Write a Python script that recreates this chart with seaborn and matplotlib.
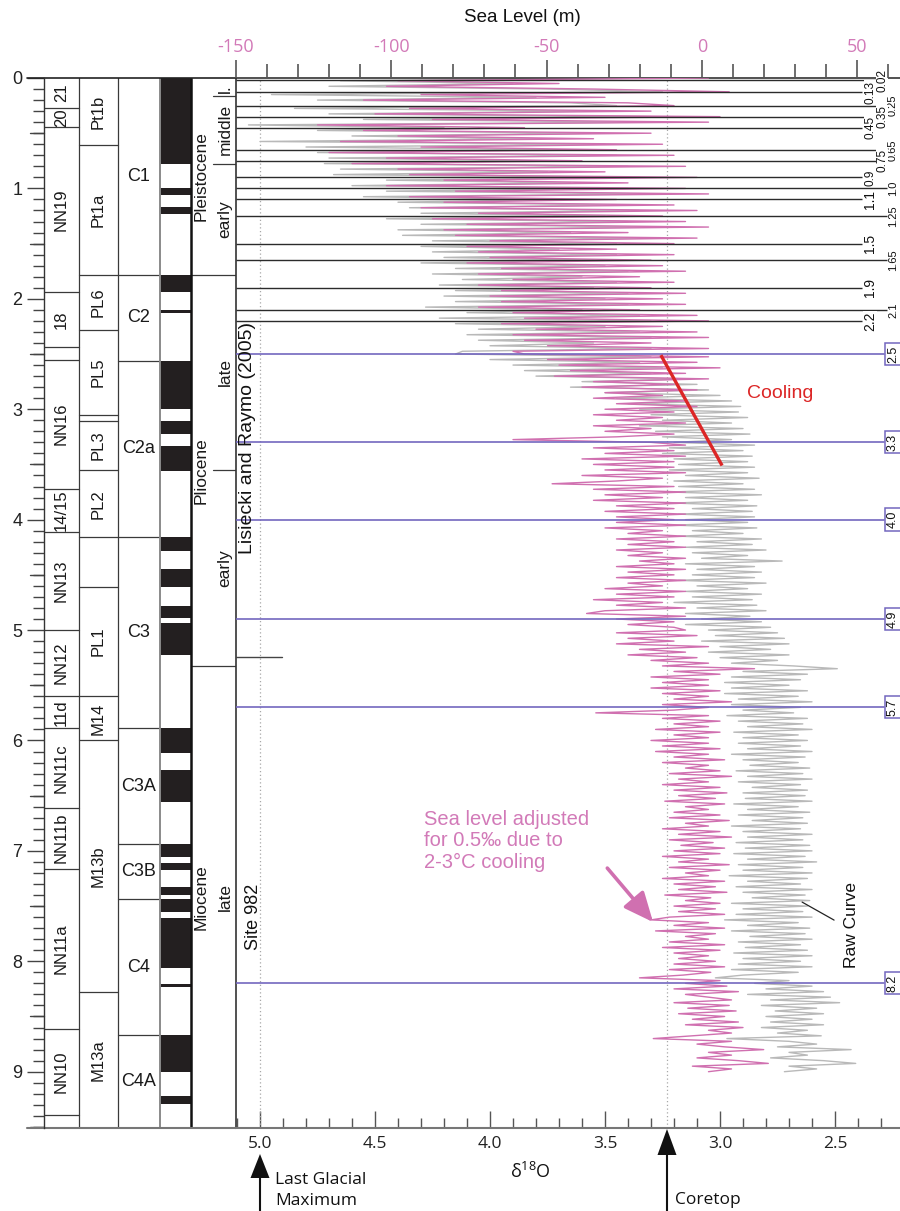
import numpy as np
import pandas as pd
import matplotlib
matplotlib.use("Agg")
import matplotlib.pyplot as plt
import seaborn as sns
from matplotlib.patches import Rectangle, Polygon
from matplotlib.lines import Line2D
from matplotlib.ticker import MultipleLocator

# ---------------------------------------------------------------- data
AGE_STEP = 0.025
ages = np.round(np.arange(0, 9.0 + 1e-9, AGE_STEP), 3)

adjusted = [
    3.05, 4.40, 3.70, 4.45, 3.55, 2.96, 4.30, 3.50, 4.55, 3.40, 3.20, 4.35, 3.30, 4.50, 3.00, 4.25, 3.05, 4.75, 3.85, 4.55,
    3.30, 4.40, 3.55, 4.65, 3.25, 4.30, 3.45, 4.70, 3.20, 4.45, 3.60, 4.60, 3.15, 4.40, 3.50, 4.35, 3.10, 4.20, 3.40, 4.45,
    3.15, 4.15, 3.05, 4.35, 3.45, 4.20, 3.20, 4.30, 3.10, 4.05, 3.25, 4.25, 3.15, 4.10, 3.05, 4.20, 3.40, 4.15, 3.10, 4.00,
    3.20, 4.10, 3.45, 4.05, 3.20, 4.00, 3.30, 4.10, 3.25, 3.95, 3.15, 4.05, 3.35, 3.90, 3.20, 4.05, 3.30, 3.95, 3.15, 4.00,
    3.25, 3.95, 3.15, 4.05, 3.35, 3.90, 3.10, 3.85, 3.05, 3.95, 3.25, 3.80, 3.10, 3.90, 3.05, 3.85, 3.30, 3.75, 3.05, 3.90,
    3.85, 3.05, 3.75, 3.10, 3.70, 3.00, 3.65, 3.15, 3.72, 3.05, 3.55, 3.20, 3.60, 3.10, 3.50, 3.25, 3.55, 3.15, 3.45, 3.10,
    3.50, 3.20, 3.55, 3.25, 3.45, 3.15, 3.55, 3.30, 3.50, 3.20, 3.45, 3.90, 3.30, 3.15, 3.55, 3.20, 3.50, 3.15, 3.60, 3.20,
    3.55, 3.20, 3.50, 3.15, 3.60, 3.25, 3.45, 3.73, 3.20, 3.55, 3.15, 3.50, 3.25, 3.55, 3.15, 3.45, 3.20, 3.50, 3.15, 3.45,
    3.20, 3.45, 3.15, 3.50, 3.25, 3.40, 3.15, 3.45, 3.20, 3.40, 3.15, 3.45, 3.25, 3.40, 3.15, 3.35, 3.20, 3.45, 3.15, 3.40,
    3.20, 3.45, 3.15, 3.40, 3.25, 3.50, 3.15, 3.45, 3.20, 3.55, 3.25, 3.45, 3.15, 3.50, 3.58, 3.15, 3.45, 3.20, 3.40, 3.20,
    3.15, 3.45, 3.10, 3.40, 3.20, 3.45, 3.05, 3.35, 3.15, 3.40, 3.10, 3.30, 3.05, 3.25, 2.85, 3.20, 3.00, 3.30, 3.05, 3.25,
    3.05, 3.30, 3.00, 3.25, 3.05, 3.20, 2.95, 3.25, 3.05, 3.20, 3.54, 3.05, 3.25, 3.00, 3.20, 3.05, 3.28, 3.00, 3.20, 3.05,
    3.30, 3.05, 3.25, 3.00, 3.28, 3.05, 3.20, 2.98, 3.25, 3.05, 3.15, 3.00, 3.22, 2.95, 3.18, 3.05, 3.25, 3.00, 3.20, 2.97,
    3.18, 3.02, 3.24, 2.98, 3.15, 3.05, 3.20, 3.00, 3.22, 2.96, 3.15, 3.05, 3.25, 3.00, 3.18, 2.95, 3.22, 3.03, 3.17, 2.98,
    3.20, 3.00, 3.25, 3.05, 3.18, 2.96, 3.22, 3.00, 3.15, 3.05, 3.25, 2.98, 3.20, 3.02, 3.18, 2.97, 3.24, 3.04, 3.15, 3.00,
    3.20, 3.02, 3.18, 2.98, 3.22, 3.30, 3.05, 3.20, 2.98, 3.28, 3.02, 3.15, 3.05, 3.22, 2.98, 3.25, 3.00, 3.20, 3.05, 3.18,
    3.02, 3.20, 2.98, 3.22, 3.04, 3.16, 3.35, 3.00, 3.15, 2.97, 3.20, 2.92, 3.15, 3.05, 2.95, 3.20, 2.96, 3.14, 2.93, 3.18,
    2.98, 3.12, 2.92, 3.15, 2.90, 3.05, 2.95, 3.12, 3.29, 2.95, 3.10, 2.98, 2.81, 3.05, 2.95, 3.10, 2.92, 2.79, 3.12, 2.95,
    3.05,
]

raw = [
    3.30, 4.65, 3.90, 4.70, 3.75, 3.25, 4.95, 3.80, 4.75, 3.65, 3.45, 4.85, 3.55, 4.70, 3.30, 4.55, 3.35, 5.05, 4.20, 4.75,
    3.55, 4.60, 3.80, 5.00, 3.50, 4.80, 3.70, 4.75, 3.45, 4.70, 3.80, 4.72, 3.40, 4.65, 3.75, 4.68, 3.35, 4.45, 3.65, 4.60,
    3.40, 4.45, 3.30, 4.55, 3.70, 4.40, 3.45, 4.35, 3.35, 4.30, 3.50, 4.45, 3.40, 4.30, 3.30, 4.40, 3.65, 4.38, 3.35, 4.25,
    3.45, 4.30, 3.70, 4.25, 3.45, 4.20, 3.55, 4.30, 3.50, 4.15, 3.40, 4.25, 3.60, 4.12, 3.45, 4.22, 3.55, 4.15, 3.40, 4.20,
    3.50, 4.15, 3.40, 4.28, 3.60, 4.10, 3.35, 4.22, 3.30, 4.15, 3.50, 4.05, 3.35, 4.10, 3.30, 4.05, 3.55, 4.00, 3.30, 4.12,
    4.15, 3.30, 4.00, 3.35, 3.90, 3.25, 3.85, 3.30, 3.80, 3.15, 3.60, 3.10, 3.65, 3.05, 3.50, 3.00, 3.45, 2.95, 3.40, 2.91,
    3.35, 2.92, 3.30, 2.88, 3.25, 2.95, 3.35, 2.90, 3.28, 2.87, 3.25, 2.95, 3.20, 2.85, 3.22, 2.90, 3.25, 2.86, 3.20, 2.88,
    3.18, 2.85, 3.22, 2.88, 3.15, 2.83, 3.20, 2.90, 3.18, 2.85, 3.22, 2.82, 3.15, 2.88, 3.20, 2.84, 3.12, 2.86, 3.18, 2.85,
    3.15, 2.88, 3.20, 2.84, 3.12, 2.90, 3.18, 2.82, 3.10, 2.86, 3.15, 2.80, 3.12, 2.88, 3.08, 2.73, 3.15, 2.85, 3.10, 2.82,
    3.12, 2.85, 3.18, 2.80, 3.10, 2.88, 3.15, 2.82, 3.12, 2.86, 3.20, 2.84, 3.10, 2.80, 3.15, 2.87, 3.08, 2.82, 3.15, 2.78,
    3.05, 2.75, 3.02, 2.72, 3.08, 2.70, 3.00, 2.78, 3.05, 2.70, 3.00, 2.75, 2.95, 2.68, 2.49, 2.90, 2.62, 2.95, 2.65, 2.98,
    2.70, 2.95, 2.62, 2.98, 2.66, 2.92, 2.60, 2.95, 2.65, 2.90, 2.68, 2.97, 2.62, 2.92, 2.64, 2.88, 2.60, 2.94, 2.66, 2.90,
    2.62, 2.92, 2.65, 2.88, 2.60, 2.95, 2.63, 2.90, 2.66, 2.87, 2.61, 2.93, 2.64, 2.88, 2.60, 2.92, 2.65, 2.86, 2.62, 2.90,
    2.63, 2.89, 2.60, 2.94, 2.66, 2.88, 2.61, 2.92, 2.64, 2.86, 2.62, 2.95, 2.65, 2.90, 2.60, 2.88, 2.64, 2.93, 2.61, 2.89,
    2.60, 2.94, 2.63, 2.88, 2.58, 2.92, 2.64, 2.90, 2.60, 2.96, 2.62, 2.88, 2.65, 2.93, 2.60, 2.90, 2.63, 2.86, 2.61, 2.95,
    2.62, 2.90, 2.64, 2.93, 2.60, 2.98, 2.66, 2.88, 2.61, 2.95, 2.63, 2.87, 2.60, 2.92, 2.65, 2.89, 2.62, 2.94, 2.60, 2.90,
    2.65, 2.92, 2.60, 2.95, 2.66, 2.90, 3.02, 2.70, 2.85, 2.60, 2.80, 2.55, 2.88, 2.52, 2.78, 2.48, 2.82, 2.58, 2.76, 2.55,
    2.80, 2.60, 2.78, 2.55, 2.82, 2.62, 2.75, 2.56, 2.97, 2.70, 2.58, 2.75, 2.43, 2.70, 2.62, 2.78, 2.55, 2.41, 2.70, 2.58,
    2.72,
]

BLACK_LINE_AGES = [0.02, 0.13, 0.25, 0.35, 0.45, 0.65, 0.75, 0.9, 1.0, 1.1, 1.25, 1.5, 1.65, 1.9, 2.1, 2.2]
BLACK_LINE_LABELS = ["0.02", "0.13", "0.25", "0.35", "0.45", "0.65", "0.75", "0.9", "1.0", "1.1",
                     "1.25", "1.5", "1.65", "1.9", "2.1", "2.2"]
PURPLE_LINE_AGES = [2.5, 3.3, 4.0, 4.9, 5.7, 8.2]
PURPLE_LABELS = ["2.5", "3.3", "4.0", "4.9", "5.7", "8.2"]

NN_BOUNDS = [0, 0.27, 0.44, 1.94, 2.44, 2.55, 3.72, 4.11, 5.0, 5.6, 5.89, 6.61, 7.16, 8.61, 9.39, 9.51]
NN_LABELS = ["21", "20", "NN19", "18", "", "NN16", "14/15", "NN13", "NN12", "11d",
             "NN11c", "NN11b", "NN11a", "NN10", ""]
PF_BOUNDS = [0, 0.61, 1.78, 2.28, 3.05, 3.11, 3.55, 4.16, 4.61, 5.6, 6.0, 8.28, 9.51]
PF_LABELS = ["Pt1b", "Pt1a", "PL6", "PL5", "", "PL3", "PL2", "", "PL1", "M14", "M13b", "M13a"]
CHRON_BOUNDS = [0, 1.78, 2.56, 4.16, 5.89, 6.94, 7.44, 8.67, 9.51]
CHRON_LABELS = ["C1", "C2", "C2a", "C3", "C3A", "C3B", "C4", "C4A"]
NORMAL_POLARITY = [(0, 0.78), (1.0, 1.06), (1.17, 1.23), (1.78, 1.94), (2.10, 2.125),
                   (2.56, 3.0), (3.11, 3.22), (3.33, 3.56), (4.16, 4.28), (4.45, 4.61),
                   (4.78, 4.89), (4.94, 5.23), (5.89, 6.11), (6.27, 6.56), (6.94, 7.06),
                   (7.11, 7.17), (7.33, 7.40), (7.44, 7.55), (7.61, 8.06), (8.21, 8.23),
                   (8.67, 9.0), (9.22, 9.29)]
EPOCH_BOUNDS = [0, 1.78, 5.33, 9.51]
EPOCH_LABELS = ["Pleistocene", "Pliocene", "Miocene"]
STAGE_BOUNDS = [0, 0.16, 0.78, 1.78, 3.55, 5.33, 9.51]
STAGE_LABELS = ["l.", "middle", "early", "late", "early", "late"]

D18O_TICKS = [5.0, 4.5, 4.0, 3.5, 3.0, 2.5]
SL_TICKS = [-150, -100, -50, 0, 50]
LGM_D18O = 5.0
CORETOP_D18O = 3.23
COOLING_START = (3.257, 2.51)
COOLING_END = (2.991, 3.51)

# ---------------------------------------------------------------- style
sns.set_theme(style="white")
plt.rcParams['font.family'] = ['Liberation Sans', 'DejaVu Sans']
plt.rcParams['mathtext.fontset'] = 'custom'
plt.rcParams['mathtext.rm'] = 'Open Sans'
plt.rcParams['mathtext.default'] = 'regular'

PINK = "#d070b0"
PINK_TEXT = "#d27ab8"
GRAY = "#b9b9b9"
PURPLE = "#7367bf"
RED = "#dc2626"
BLACK = "#231f20"
DARK = "#2b2b2b"
OPEN = ['Open Sans', 'DejaVu Sans']

W, H = 900, 1211
fig = plt.figure(figsize=(W / 100, H / 100), dpi=100)
fig.patch.set_facecolor("white")


def fpos(px, py):
    return (px / W, 1 - py / H)


def ftext(px, py, s, **kw):
    fig.text(px / W, 1 - py / H, s, **kw)


AGE_MAX = 9.51
TOP_PX, BOT_PX = 78, 1128

# ---------------------------------------------------------------- column panel
cax = fig.add_axes([44 / W, 1 - BOT_PX / H, 192 / W, (BOT_PX - TOP_PX) / H])
cax.set_xlim(44, 236)
cax.set_ylim(AGE_MAX, 0)
cax.patch.set_alpha(0)
for s in ['top', 'right', 'bottom']:
    cax.spines[s].set_visible(False)
cax.spines['left'].set_color('#333333')
cax.spines['left'].set_linewidth(1.0)
cax.set_xticks([])
cax.set_yticks(range(10))
cax.set_yticklabels([str(i) for i in range(10)], fontsize=13, color='#222222')
cax.yaxis.set_minor_locator(MultipleLocator(0.1))
cax.tick_params(axis='y', which='major', direction='out', length=12.2, width=1.0,
                color='#444444', pad=3.5, left=True)
cax.tick_params(axis='y', which='minor', direction='out', length=7.9, width=1.0,
                color='#444444', left=True)
for h in np.arange(0.5, 9.51, 1.0):
    cax.plot([30, 44], [h, h], color='#444444', lw=1.0, clip_on=False)

LINE_KW = dict(color='#3a3a3a', lw=0.9)


def zones(x0, x1, bounds, labels, rotation, fs=12, xc=None):
    for b in bounds[1:-1]:
        cax.plot([x0, x1], [b, b], **LINE_KW)
    xc = (x0 + x1) / 2 if xc is None else xc
    for a0, a1, lab in zip(bounds[:-1], bounds[1:], labels):
        if lab:
            cax.text(xc, (a0 + a1) / 2, lab, rotation=rotation, ha='center', va='center',
                     fontsize=fs, color='#1a1a1a')


zones(44, 79, NN_BOUNDS, NN_LABELS, 90, fs=12)
zones(79, 118, PF_BOUNDS, PF_LABELS, 90, fs=12)
zones(118, 160, CHRON_BOUNDS, CHRON_LABELS, 0, fs=13)

for a0, a1 in NORMAL_POLARITY:
    cax.add_patch(Rectangle((160, a0), 31, a1 - a0, facecolor=BLACK, edgecolor='none'))

# epoch column
for b in EPOCH_BOUNDS[1:-1]:
    cax.plot([191, 236], [b, b], **LINE_KW)
for b in STAGE_BOUNDS[1:-1]:
    if b not in EPOCH_BOUNDS:
        cax.plot([213, 236], [b, b], **LINE_KW)
for a0, a1, lab in zip(EPOCH_BOUNDS[:-1], EPOCH_BOUNDS[1:], EPOCH_LABELS):
    cax.text(201, (a0 + a1) / 2, lab, rotation=90, ha='center', va='center', fontsize=12.5,
             color='#1a1a1a')
for a0, a1, lab in zip(STAGE_BOUNDS[:-1], STAGE_BOUNDS[1:], STAGE_LABELS):
    yc = (a0 + a1) / 2 if lab != "l." else 0.10
    cax.text(225, yc, lab, rotation=90, ha='center', va='center', fontsize=12.5, color='#1a1a1a')

for x in [79, 118]:
    cax.axvline(x, color='#3a3a3a', lw=0.9)
cax.axvline(160, color='#8a8a8a', lw=1.4)
cax.axvline(191, color='#111111', lw=1.8)
cax.plot([27, 236], [0, 0], color='#222222', lw=1.2, clip_on=False)
cax.plot([27, 236], [AGE_MAX, AGE_MAX], color='#777777', lw=1.5, clip_on=False)

# ---------------------------------------------------------------- main panel
ax = fig.add_axes([236 / W, 1 - BOT_PX / H, 664 / W, (BOT_PX - TOP_PX) / H])
ax.patch.set_alpha(0)
df = pd.DataFrame({'age': ages, 'raw': raw, 'adjusted': adjusted})
sns.lineplot(data=df, x='raw', y='age', orient='y', sort=False, estimator=None,
             color=GRAY, lw=1.0, ax=ax, zorder=2)
sns.lineplot(data=df, x='adjusted', y='age', orient='y', sort=False, estimator=None,
             color=PINK, lw=1.0, ax=ax, zorder=3)

D_LEFT = 5.0 + 24 / 230
D_RIGHT = 5.0 - 640 / 230
ax.set_xlim(D_LEFT, D_RIGHT)
ax.set_ylim(AGE_MAX, 0)
ax.set_xlabel('')
ax.set_ylabel('')
ax.set_yticks([])
ax.set_xticks(D18O_TICKS)
ax.set_xticklabels([f"{t:.1f}" for t in D18O_TICKS], fontfamily=OPEN, fontsize=12.5,
                   color='#222222')
ax.xaxis.set_minor_locator(MultipleLocator(0.1))
ax.tick_params(axis='x', which='major', direction='in', length=12.5, width=1.0,
               color='#555555', pad=6, bottom=True, top=False)
ax.tick_params(axis='x', which='minor', direction='in', length=7.2, width=1.0,
               color='#555555', bottom=True, top=False)
ax.spines['right'].set_visible(False)
ax.spines['left'].set_color('#333333')
ax.spines['left'].set_linewidth(1.2)
ax.spines['top'].set_color('#333333')
ax.spines['top'].set_linewidth(1.2)
ax.spines['bottom'].set_color('#777777')
ax.spines['bottom'].set_linewidth(1.5)

# dotted reference lines
for d in [LGM_D18O, CORETOP_D18O]:
    ax.axvline(d, color='#a8a8a8', lw=0.9, ls=(0, (1, 2)), zorder=1)

trans = ax.get_yaxis_transform()


def fr(px):
    return (px - 236) / 664


LABEL_COL = [1, 0, 2, 1, 0, 2, 1, 0, 2, 0, 2, 0, 2, 0, 2, 0]
END_PX = {0: 862, 1: 876, 2: 887}
LAB_PX = {0: 870, 1: 882, 2: 893}
LAB_FS = {0: None, 1: 8.5, 2: 8}
for a, lab, col in zip(BLACK_LINE_AGES, BLACK_LINE_LABELS, LABEL_COL):
    ax.plot([0, fr(END_PX[col])], [a, a], transform=trans, color=DARK, lw=1.0, zorder=4,
            solid_capstyle='butt')
for a, lab, col in zip(BLACK_LINE_AGES, BLACK_LINE_LABELS, LABEL_COL):
    fs = LAB_FS[col] or (8.5 if a < 1 else 10)
    kw = dict(bbox=dict(fc='white', ec='none', pad=0.3)) if col < 2 else {}
    ax.text(fr(LAB_PX[col]), a, lab, transform=trans, rotation=90, ha='center', va='center',
            fontsize=fs, color='#111111', clip_on=False, zorder=6, **kw)

for a, lab in zip(PURPLE_LINE_AGES, PURPLE_LABELS):
    ax.plot([0, fr(884)], [a, a], transform=trans, color=PURPLE, lw=1.2, zorder=4)
    ax.text(fr(893), a, lab, transform=trans, rotation=90, ha='center', va='center',
            fontsize=9, color='#111111', clip_on=False, zorder=6,
            bbox=dict(boxstyle='square,pad=0.2', fc='white', ec=PURPLE, lw=1.1))

# short tick line near the Mio/Pliocene boundary
ax.plot([0, fr(282)], [5.245, 5.245], transform=trans, color='#444444', lw=1.0, zorder=4)

# cooling line
ax.plot([COOLING_START[0], COOLING_END[0]], [COOLING_START[1], COOLING_END[1]],
        color=RED, lw=2.4, zorder=5, solid_capstyle='butt')
ftext(780, 394, "Cooling", color=RED, fontsize=14, ha='center', va='center')

# pink annotation + arrow
ftext(424, 841, "Sea level adjusted\nfor 0.5\u2030 due to\n2-3\u00b0C cooling", color=PINK_TEXT,
      fontsize=14.5, ha='left', va='center', linespacing=1.18)
ax.annotate('', xy=(3.291, 7.645), xytext=(3.49, 7.156),
            arrowprops=dict(arrowstyle='-|>,head_length=0.9,head_width=0.4', color=PINK,
                            lw=2.6, mutation_scale=20, shrinkA=0, shrinkB=0), zorder=6)

# raw curve label
ax.plot([2.643, 2.504], [7.464, 7.627], color='#222222', lw=0.9, zorder=5)
ftext(851, 925, "Raw Curve", rotation=90, fontsize=12.5, ha='center', va='center', color='#111111')

ftext(247, 438, "Lisiecki and Raymo (2005)", rotation=90, fontsize=14, ha='center', va='center',
      color='#111111')
ftext(254, 917, "Site 982", rotation=90, fontsize=13, ha='center', va='center', color='#111111')

# ---------------------------------------------------------------- top axis (sea level)
ax2 = ax.twiny()
ax2.set_xlim(-150 + 1 / 3.11, -150 + 665 / 3.11)
ax2.set_xticks(SL_TICKS)
ax2.set_xticklabels([str(t) for t in SL_TICKS], fontfamily=OPEN, fontsize=13, color=PINK_TEXT)
ax2.xaxis.set_minor_locator(MultipleLocator(10))
ax2.tick_params(axis='x', which='major', direction='out', length=13, width=1.2,
                color='#555555', pad=3, top=True, bottom=False)
ax2.tick_params(axis='x', which='minor', direction='out', length=10, width=1.2,
                color='#555555', top=True, bottom=False)
for s in ax2.spines.values():
    s.set_visible(False)
ftext(522, 18, "Sea Level (m)", fontsize=13.5, ha='center', va='center', color='#111111')

# ---------------------------------------------------------------- bottom annotations
ftext(530, 1172, "\u03b4$^{18}$O", fontsize=13, ha='center', va='center', color='#111111',
      fontfamily=OPEN)
ftext(275, 1180, "Last Glacial", fontsize=12.5, ha='left', va='center', color='#111111',
      fontfamily=OPEN)
ftext(275, 1201, "Maximum", fontsize=12.5, ha='left', va='center', color='#111111',
      fontfamily=OPEN)
ftext(675, 1200, "Coretop", fontsize=12.5, ha='left', va='center', color='#111111',
      fontfamily=OPEN)


def up_arrow(x, tip, base, half=9.5):
    pts = [fpos(x, tip), fpos(x - half, base), fpos(x + half, base)]
    fig.add_artist(Polygon(pts, closed=True, transform=fig.transFigure, facecolor='#111111',
                           edgecolor='none'))
    x0, y0 = fpos(x, base - 1)
    x1, y1 = fpos(x, H)
    fig.add_artist(Line2D([x0, x1], [y0, y1], transform=fig.transFigure, color='#111111', lw=1.5))


up_arrow(260, 1154, 1178)
up_arrow(667, 1129, 1155)

fig.savefig("out.png", dpi=100)
